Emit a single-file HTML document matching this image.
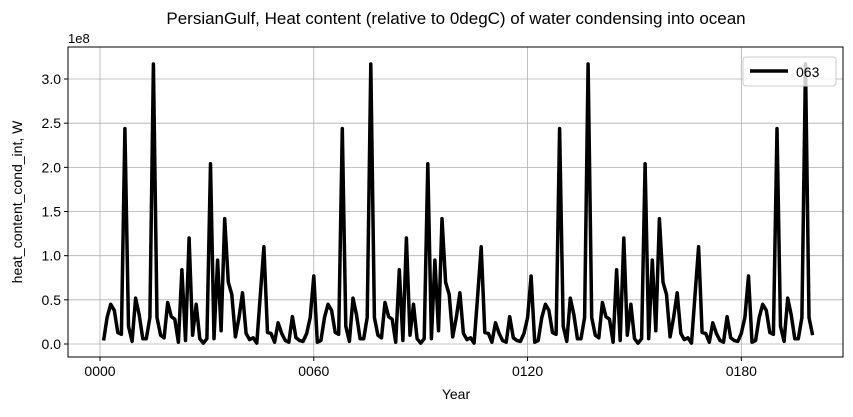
<!DOCTYPE html>
<html><head><meta charset="utf-8"><style>
body{margin:0;background:#fff;}
svg text{font-family:"Liberation Sans","DejaVu Sans",sans-serif;}
</style></head><body>
<svg id="chart" width="853" height="412" xmlns="http://www.w3.org/2000/svg">
<rect width="853" height="412" fill="#fff"/>
<g id="grid"></g>
<g id="axes"></g>
<path id="series" fill="none" stroke="#000" stroke-width="3.5" stroke-linejoin="round"/>
<rect x="68" y="47" width="775" height="310" fill="none" stroke="#000" stroke-width="1"/>
<text x="456" y="24" font-size="17" text-anchor="middle">PersianGulf, Heat content (relative to 0degC) of water condensing into ocean</text>
<text x="68" y="43" font-size="13">1e8</text>
<text transform="translate(22,202) rotate(-90)" font-size="14" text-anchor="middle">heat_content_cond_int, W</text>
<text x="456" y="399" font-size="14" text-anchor="middle">Year</text>
<g>
<rect x="743" y="57" width="93" height="29" rx="3" fill="#fff" fill-opacity="0.8" stroke="#ccc"/>
<line x1="750" y1="71" x2="788" y2="71" stroke="#000" stroke-width="3.5"/>
<text x="796" y="77" font-size="14">063</text>
</g>
</svg>
<script>
const period = [0.04,0.3,0.45,0.38,0.13,0.11,2.44,0.2,0.03,0.52,0.33,0.06,0.06,0.3,3.17,0.3,0.1,0.07,0.47,0.31,0.28,0.02,0.84,0.04,1.2,0.1,0.45,0.06,0.01,0.06,2.04,0.06,0.95,0.15,1.42,0.7,0.56,0.08,0.3,0.58,0.12,0.05,0.07,0.01,0.55,1.1,0.13,0.12,0.02,0.24,0.12,0.04,0.02,0.31,0.07,0.04,0.03,0.12,0.3,0.77,0.02];
const values = [].concat(period, period, period, period.slice(0,17));
const years = values.map((v,i)=>i+1);
const xTicks = [0,60,120,180];
const xTickLabels = ["0000","0060","0120","0180"];
const yTicks = [0,0.5,1,1.5,2,2.5,3];
const yTickLabels = ["0.0","0.5","1.0","1.5","2.0","2.5","3.0"];
const NS="http://www.w3.org/2000/svg";
const L=68,R=843,T=47,B=357;
const x = yr => 100 + yr*3.563;
const y = v => 344 - v*88.33;
const grid=document.getElementById('grid'), axes=document.getElementById('axes');
function mk(tag,attrs,parent){const e=document.createElementNS(NS,tag);for(const k in attrs)e.setAttribute(k,attrs[k]);parent.appendChild(e);return e;}
xTicks.forEach((t,i)=>{
  const g=mk('line',{x1:x(t),x2:x(t),y1:T,y2:B,stroke:'#b0b0b0','stroke-width':0.8},grid);
  
  
  const tk=mk('line',{x1:x(t),x2:x(t),y1:B,y2:B+4,stroke:'#000'},axes);
  
  
  const tx=mk('text',{x:x(t),y:B+19,'font-size':14,'text-anchor':'middle'},axes);
  tx.textContent=xTickLabels[i];
  
  
});
yTicks.forEach((t,i)=>{
  const g=mk('line',{x1:L,x2:R,y1:y(t),y2:y(t),stroke:'#b0b0b0','stroke-width':0.8},grid);
  
  
  const tk=mk('line',{x1:L-4,x2:L,y1:y(t),y2:y(t),stroke:'#000'},axes);
  
  
  const tx=mk('text',{x:L-7,y:y(t)+5,'font-size':14,'text-anchor':'end'},axes);
  tx.textContent=yTickLabels[i];
  
  
});
document.getElementById('series').setAttribute('d', values.map((v,i)=>(i?'L':'M')+x(years[i]).toFixed(1)+','+y(v).toFixed(1)).join(''));
</script>
</body></html>
